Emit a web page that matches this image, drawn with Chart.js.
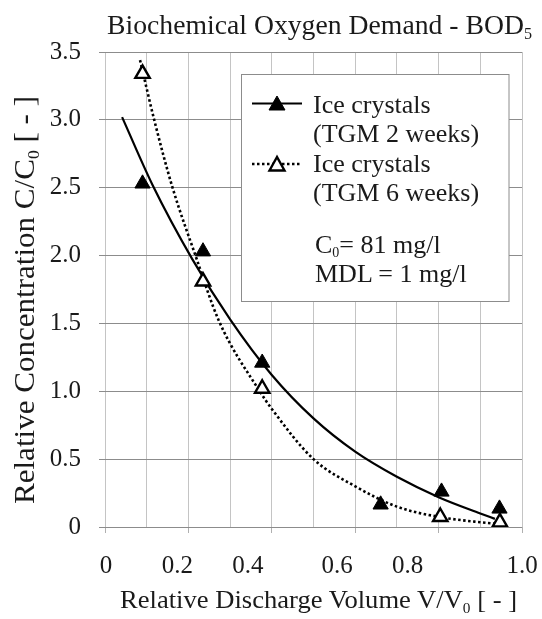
<!DOCTYPE html>
<html><head><meta charset="utf-8">
<script src="https://cdn.jsdelivr.net/npm/chart.js@4.4.0/dist/chart.umd.min.js"></script>
<style>
html,body{margin:0;padding:0;background:#fff;}
#wrap{position:relative;width:542px;height:619px;}
#c{position:absolute;left:0;top:0;}
#ov{position:absolute;left:0;top:0;pointer-events:none;}
</style></head><body>
<div id="wrap">
<canvas id="c" width="542" height="619"></canvas>
<svg id="ov" width="542" height="619" xmlns="http://www.w3.org/2000/svg" font-family="'Liberation Serif','Times New Roman',serif" fill="#1a1a1a">
  <text x="107" y="34" font-size="27.5" textLength="425" lengthAdjust="spacingAndGlyphs">Biochemical Oxygen Demand - BOD<tspan font-size="16" dy="5">5</tspan></text>
  <text transform="translate(34,300) rotate(-90)" text-anchor="middle" font-size="30" textLength="408" lengthAdjust="spacingAndGlyphs">Relative Concentration C/C<tspan font-size="17" dy="5">0</tspan><tspan dy="-5"> [ - ]</tspan></text>
  <text x="120" y="608" font-size="26" textLength="397" lengthAdjust="spacingAndGlyphs">Relative Discharge Volume V/V<tspan font-size="15" dy="5">0</tspan><tspan dy="-5"> [ - ]</tspan></text>
  <rect x="241.5" y="74.5" width="267.5" height="227" fill="#fff" stroke="#8c8c8c" stroke-width="1"/>
  <line x1="252" y1="103.5" x2="302" y2="103.5" stroke="#000" stroke-width="2.2"/>
  <polygon points="277,96 269,110 285,110" fill="#000" stroke="#000" stroke-width="1"/>
  <line x1="252" y1="164" x2="302" y2="164" stroke="#000" stroke-width="2.6" stroke-dasharray="2.5,2.5"/>
  <polygon points="277,157 269.5,170.5 284.5,170.5" fill="#fff" stroke="#000" stroke-width="2.4"/>
  <text x="313" y="112.5" font-size="26">Ice crystals</text>
  <text x="313" y="141.5" font-size="26">(TGM 2 weeks)</text>
  <text x="313" y="171.5" font-size="26">Ice crystals</text>
  <text x="313" y="200.5" font-size="26">(TGM 6 weeks)</text>
  <text x="315" y="253" font-size="26">C<tspan font-size="14" dy="4">0</tspan><tspan dy="-4">= 81 mg/l</tspan></text>
  <text x="315" y="282" font-size="26">MDL = 1 mg/l</text>
</svg>
</div>
<script>
// ---- data ----
const xTickValues = [0, 0.2, 0.4, 0.6, 0.8, 1.0];
const xTickLabels = ['0', '0.2', '0.4', '0.6', '0.8', '1.0'];

// measured points, TGM 2 weeks (filled triangles)
const x2w = [0.09, 0.235, 0.377, 0.661, 0.807, 0.946];
const y2w = [2.53, 2.03, 1.21, 0.165, 0.26, 0.135];
// measured points, TGM 6 weeks (open triangles)
const x6w = [0.09, 0.235, 0.377, 0.804, 0.947];
const y6w = [3.34, 1.81, 1.02, 0.075, 0.035];

// trend curves
const trend2X = [0.041, 0.114, 0.21, 0.3, 0.4, 0.5, 0.6, 0.7, 0.8, 0.9, 0.935];
const trend2Y = [3.02, 2.52, 1.97, 1.53, 1.12, 0.80, 0.555, 0.37, 0.22, 0.10, 0.06];
const trend6X = [0.084, 0.118, 0.162, 0.217, 0.273, 0.371, 0.4, 0.5, 0.6, 0.7, 0.8, 0.9, 0.955];
const trend6Y = [3.44, 3.0, 2.5, 2.0, 1.52, 1.0, 0.87, 0.50, 0.30, 0.15, 0.075, 0.035, 0.02];

// ---- style ----
const TEXT = '#1a1a1a';
const FONT = "'Liberation Serif','Times New Roman',serif";
const X_LABEL_SHIFT = [1, -11, -24, -18, -31, 0];
const X_LABEL_BASELINE = 573;

const pts = (xs, ys) => xs.map((x, i) => ({x, y: ys[i]}));

Chart.defaults.font.family = FONT;
Chart.defaults.color = TEXT;

const xLabelPlugin = {
  id: 'xLabels',
  afterDraw(chart) {
    const sc = chart.scales.x, ctx = chart.ctx;
    ctx.save();
    ctx.font = '25px ' + FONT;
    ctx.fillStyle = TEXT;
    ctx.textAlign = 'center';
    ctx.textBaseline = 'alphabetic';
    xTickValues.forEach((v, i) => {
      ctx.fillText(xTickLabels[i], sc.getPixelForValue(v) + X_LABEL_SHIFT[i], X_LABEL_BASELINE);
    });
    ctx.restore();
  }
};

new Chart(document.getElementById('c'), {
  type: 'scatter',
  data: {
    datasets: [
      { label: 'Ice crystals (TGM 6 weeks)', data: pts(x6w, y6w), pointStyle: 'triangle',
        pointRadius: 8.3, backgroundColor: '#fff', borderColor: '#000', borderWidth: 2.4, order: 0 },
      { label: 'Ice crystals (TGM 2 weeks)', data: pts(x2w, y2w), pointStyle: 'triangle',
        pointRadius: 8.8, backgroundColor: '#000', borderColor: '#000', borderWidth: 1, order: 1 },
      { label: 'trend 2 weeks', data: pts(trend2X, trend2Y), showLine: true, pointRadius: 0,
        borderColor: '#000', borderWidth: 2.2, cubicInterpolationMode: 'monotone', order: 2 },
      { label: 'trend 6 weeks', data: pts(trend6X, trend6Y), showLine: true, pointRadius: 0,
        borderColor: '#000', borderWidth: 2.6, borderDash: [2.5, 2.5],
        cubicInterpolationMode: 'monotone', order: 3 }
    ]
  },
  options: {
    responsive: false, animation: false, devicePixelRatio: 1,
    layout: { padding: { top: 52, right: 20, left: 0, bottom: 0 } },
    plugins: { legend: { display: false }, tooltip: { enabled: false }, title: { display: false } },
    scales: {
      x: {
        type: 'linear', min: 0, max: 1,
        afterFit: s => { s.height = 92; },
        ticks: { stepSize: 0.1, callback: () => '', autoSkip: false },
        grid: { color: '#c4c4c4', lineWidth: 1, tickLength: 6,
                tickColor: c => (c.index % 2 === 0 ? '#b0b0b0' : 'rgba(0,0,0,0)') },
        border: { display: false },
        title: { display: false }
      },
      y: {
        type: 'linear', min: 0, max: 3.5,
        afterFit: s => { s.width = 105; },
        ticks: { stepSize: 0.5, padding: 18, font: { size: 25 }, color: TEXT,
                 callback: v => (v === 0 ? '0' : v.toFixed(1)) },
        grid: { color: '#8c8c8c', lineWidth: 1, tickLength: 6, tickColor: '#8c8c8c' },
        border: { display: false },
        title: { display: false }
      }
    }
  },
  plugins: [xLabelPlugin]
});
</script>
</body></html>
